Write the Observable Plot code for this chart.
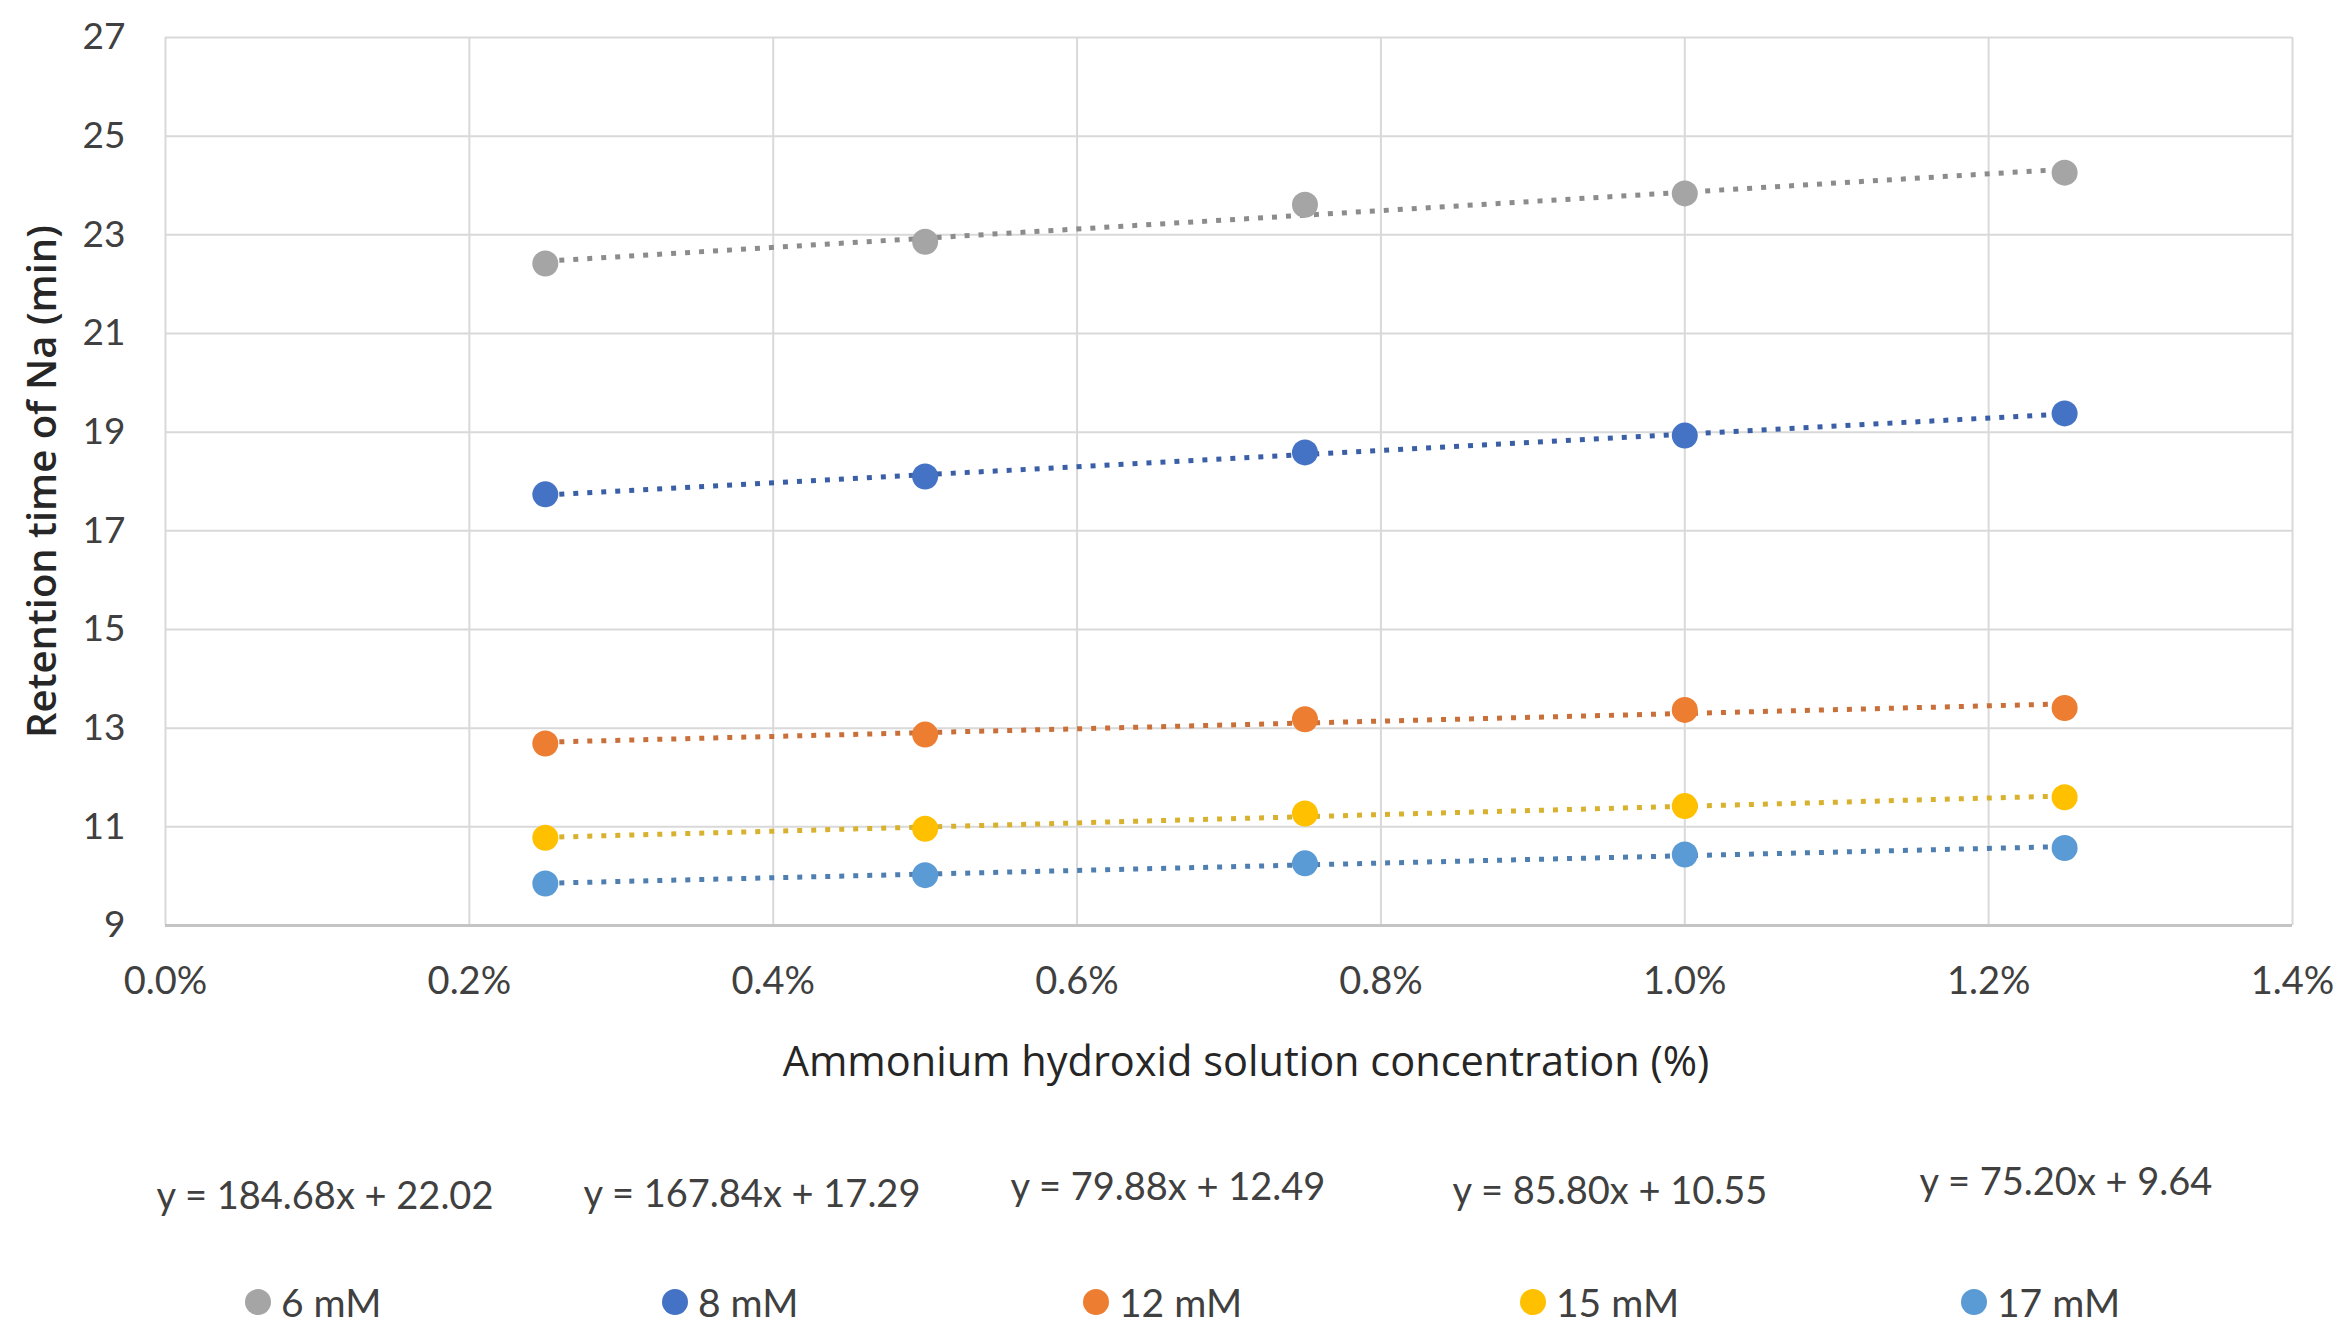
<!DOCTYPE html>
<html>
<head>
<meta charset="utf-8">
<script src="https://cdn.jsdelivr.net/npm/d3@7"></script>
<script src="https://cdn.jsdelivr.net/npm/@observablehq/plot@0.6"></script>
<style>
  html, body { margin: 0; padding: 0; background: #ffffff; }
  #wrap { position: relative; width: 2350px; height: 1341px; background: #ffffff; overflow: hidden; }
  .eq { position: absolute; transform: translate(-50%, -50%); white-space: nowrap;
        font-family: Lato, "Open Sans", sans-serif; font-size: 38px; color: #404040; }
  .leg { position: absolute; display: flex; align-items: center; transform: translateY(-50%);
         font-family: Lato, "Open Sans", sans-serif; font-size: 39px; color: #404040; white-space: nowrap; }
  .leg .sw { width: 26px; height: 26px; border-radius: 50%; margin-right: 10px; }
</style>
</head>
<body>
<div id="wrap"></div>
<script>
// ---- data ----
const concentrations = [0.0025, 0.005, 0.0075, 0.01, 0.0125];
const seriesNames = ["6 mM", "8 mM", "12 mM", "15 mM", "17 mM"];
const rt6mM  = [22.42, 22.86, 23.61, 23.84, 24.26];
const rt8mM  = [17.74, 18.10, 18.59, 18.93, 19.38];
const rt12mM = [12.69, 12.87, 13.18, 13.37, 13.41];
const rt15mM = [10.78, 10.96, 11.27, 11.42, 11.60];
const rt17mM = [9.85, 10.02, 10.26, 10.44, 10.57];
const equations = [
  "y = 184.68x + 22.02",
  "y = 167.84x + 17.29",
  "y = 79.88x + 12.49",
  "y = 85.80x + 10.55",
  "y = 75.20x + 9.64"
];
const xTicks = [0, 0.002, 0.004, 0.006, 0.008, 0.010, 0.012, 0.014];
const yTicks = [9, 11, 13, 15, 17, 19, 21, 23, 25, 27];
const xTitle = "Ammonium hydroxid solution concentration (%)";
const yTitle = "Retention time of Na (min)";

// ---- styles / layout ----
const markerColors = ["#A5A5A5", "#4472C4", "#ED7D31", "#FFC000", "#5B9BD5"];
const trendColors  = ["#8C8C8C", "#3A5FA6", "#C9703A", "#D8B12E", "#4F7FB0"];
const eqCenterX = [325, 752, 1168, 1610, 2066];
const eqCenterY = [1194, 1192, 1185, 1189, 1180];
const legendX   = [245, 662, 1083, 1520, 1961];
const legendY   = 1302;

const allValues = [rt6mM, rt8mM, rt12mM, rt15mM, rt17mM];
const rows = seriesNames.flatMap((s, i) =>
  concentrations.map((c, j) => ({series: s, conc: c, rt: allValues[i][j]})));

const fmtPct = d3.format(".1%");

const marks = [
  Plot.gridX(xTicks, {stroke: "#d9d9d9", strokeOpacity: 1, strokeWidth: 2}),
  Plot.gridY(yTicks, {stroke: "#d9d9d9", strokeOpacity: 1, strokeWidth: 2}),
  Plot.ruleY([9], {stroke: "#c4c4c4", strokeWidth: 3}),
  Plot.axisX(xTicks, {tickSize: 0, tickPadding: 42, tickFormat: fmtPct, label: null,
    fontSize: 38, fill: "#404040"}),
  Plot.axisY(yTicks, {tickSize: 0, tickPadding: 40, label: null,
    fontSize: 37, fill: "#404040"}),
];
seriesNames.forEach((s, i) => {
  marks.push(Plot.linearRegressionY(rows.filter(d => d.series === s), {
    x: "conc", y: "rt", ci: 0, stroke: trendColors[i], strokeWidth: 5,
    strokeDasharray: "5 9", strokeLinecap: "butt"
  }));
});
seriesNames.forEach((s, i) => {
  marks.push(Plot.dot(rows.filter(d => d.series === s), {
    x: "conc", y: "rt", r: 13, fill: markerColors[i], stroke: "none"
  }));
});
marks.push(Plot.text([xTitle], {text: d => d, frameAnchor: "bottom", dy: 137, dx: 17,
  textAnchor: "middle", lineAnchor: "middle", fontSize: 41.5,
  fontFamily: "Open Sans", fill: "#262626"}));
marks.push(Plot.text([yTitle], {text: d => d, frameAnchor: "left", dx: -122, rotate: -90,
  textAnchor: "middle", lineAnchor: "middle", fontSize: 40, fontWeight: 600,
  fontFamily: "Open Sans", fill: "#262626"}));

const chart = Plot.plot({
  width: 2350,
  height: 1120,
  marginLeft: 165,
  marginRight: 58,
  marginTop: 37,
  marginBottom: 195,
  style: {fontFamily: "Lato, 'Open Sans', sans-serif", fontSize: "37px", color: "#404040", background: "#ffffff", overflow: "visible"},
  x: {domain: [0, 0.014]},
  y: {domain: [9, 27]},
  marks
});
const wrap = document.getElementById("wrap");
wrap.appendChild(chart);

equations.forEach((e, i) => {
  const el = document.createElement("div");
  el.className = "eq";
  el.style.left = eqCenterX[i] + "px";
  el.style.top = eqCenterY[i] + "px";
  el.textContent = e;
  wrap.appendChild(el);
});
seriesNames.forEach((s, i) => {
  const el = document.createElement("div");
  el.className = "leg";
  el.style.left = legendX[i] + "px";
  el.style.top = legendY + "px";
  const sw = document.createElement("span");
  sw.className = "sw";
  sw.style.background = markerColors[i];
  const tx = document.createElement("span");
  tx.textContent = s;
  el.appendChild(sw);
  el.appendChild(tx);
  wrap.appendChild(el);
});
</script>
</body>
</html>
